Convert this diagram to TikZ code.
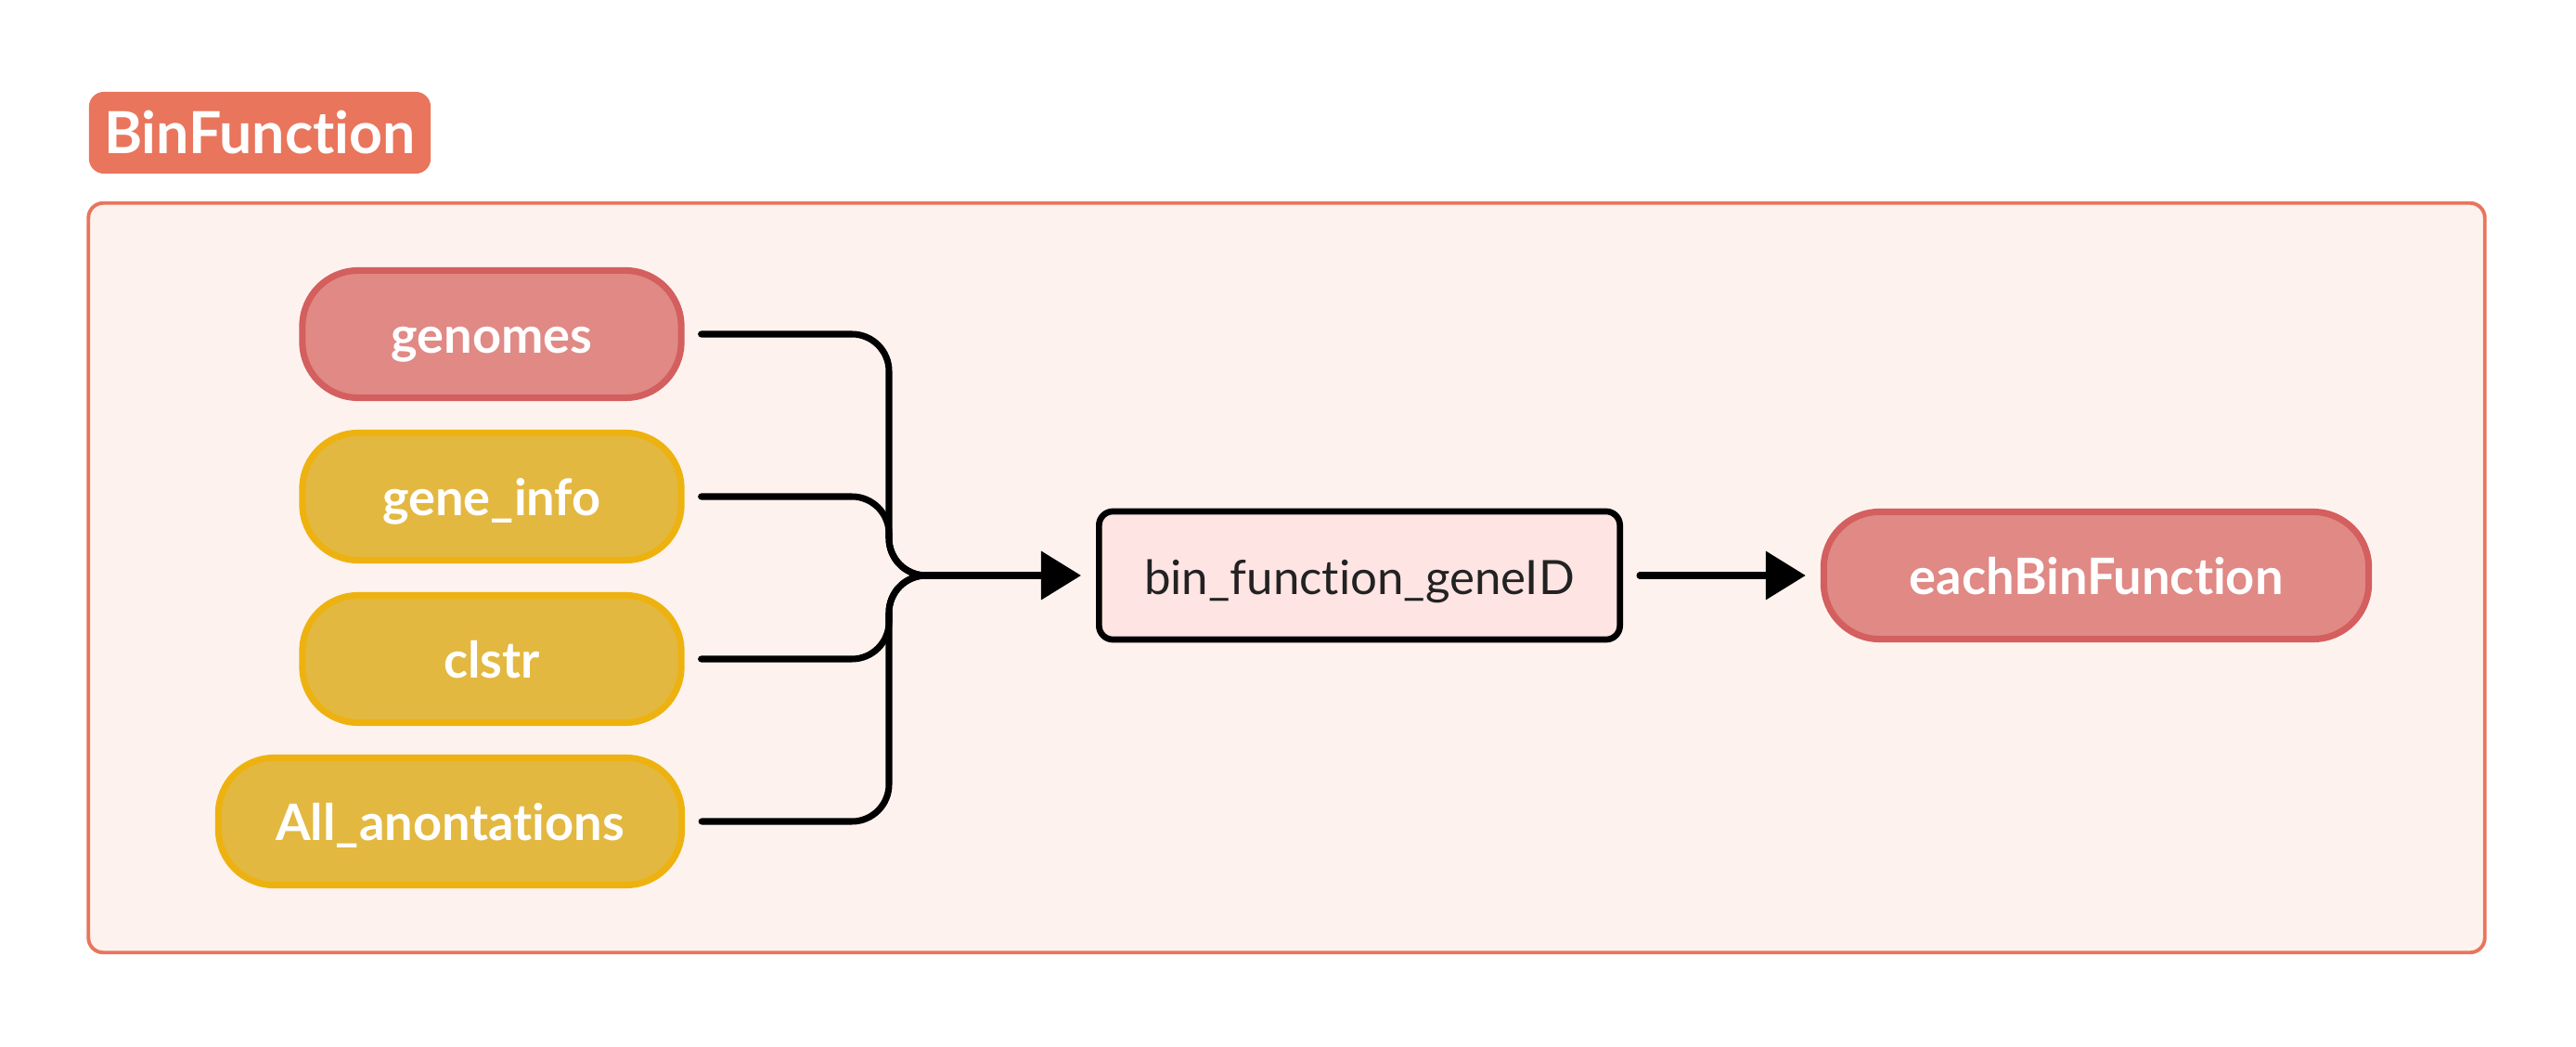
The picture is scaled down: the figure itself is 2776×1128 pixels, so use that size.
\documentclass[tikz,border=0pt]{standalone}
\usepackage{fontspec}
\setmainfont{Lato}[Ligatures=NoCommon]
\usetikzlibrary{arrows.meta}

\definecolor{tagred}{HTML}{E9755C}
\definecolor{panel}{HTML}{FDF2EE}
\definecolor{pinkfill}{HTML}{E08985}
\definecolor{pinkline}{HTML}{D35F5E}
\definecolor{yelfill}{HTML}{E3B840}
\definecolor{yelline}{HTML}{EDB20F}
\definecolor{stepfill}{HTML}{FFE4E4}
\definecolor{ink}{HTML}{222222}

\begin{document}
\begin{tikzpicture}[x=0.01cm,y=-0.01cm,
	tag/.style={fill=tagred, rounded corners=0.16cm, text=white, font=\fontsize{17.8}{22}\selectfont\bfseries, minimum width=3.68cm, minimum height=0.88cm, inner sep=0pt},
	panelbox/.style={draw=tagred, fill=panel, line width=1.1pt, rounded corners=0.16cm, minimum width=25.81cm, minimum height=8.07cm, inner sep=0pt},
	pill/.style={rounded corners=0.6cm, line width=2pt, text=white, font=\fontsize{15.4}{18}\selectfont\bfseries, minimum height=1.37cm, text height=0.52cm, text depth=0.12cm, inner sep=0pt},
	pinkpill/.style={pill, fill=pinkfill, draw=pinkline},
	yelpill/.style={pill, fill=yelfill, draw=yelline},
	stepbox/.style={draw=black, fill=stepfill, line width=1.9pt, rounded corners=0.15cm, text=ink, font=\fontsize{14.5}{18}\selectfont, minimum width=5.61cm, minimum height=1.38cm, text height=0.52cm, text depth=0.12cm, inner sep=0pt},
	wire/.style={line width=2pt, line cap=round},
	tip/.style={-{Triangle[length=0.43cm,width=0.51cm]}}]
	\useasboundingbox (0,0) rectangle (2776,1128);
	%\draw[help lines] (0,0) grid[step=1cm] (2776,1128);
	\node[tag] (title) at (280,143) {BinFunction};
	\node[panelbox] (panel) at (1386.5,622.5) {};

	\node[pinkpill, minimum width=4.08cm] (genomes) at (530,360) {genomes};
	\node[yelpill, minimum width=4.08cm] (geneinfo) at (530,535) {gene\_info};
	\node[yelpill, minimum width=4.08cm] (clstr) at (530,710) {clstr};
	\node[yelpill, minimum width=4.99cm] (allanno) at (485,885) {All\_anontations};
	\node[stepbox] (binfun) at (1465,620) {bin\_function\_geneID};
	\node[pinkpill, minimum width=5.87cm] (eachbin) at (2259,620) {eachBinFunction};

	\coordinate (join) at (958,620);
	\coordinate (hub) at (1010,620);
	\foreach \src in {genomes,geneinfo,clstr,allanno}
		\draw[wire, rounded corners=0.4cm] ([xshift=0.18cm]\src.east) -| (join) -- (hub);
	\draw[wire, tip] (hub) -- ([xshift=-0.16cm]binfun.west);
	\draw[wire, tip] ([xshift=0.18cm]binfun.east) -- ([xshift=-0.16cm]eachbin.west);
\end{tikzpicture}
\end{document}
